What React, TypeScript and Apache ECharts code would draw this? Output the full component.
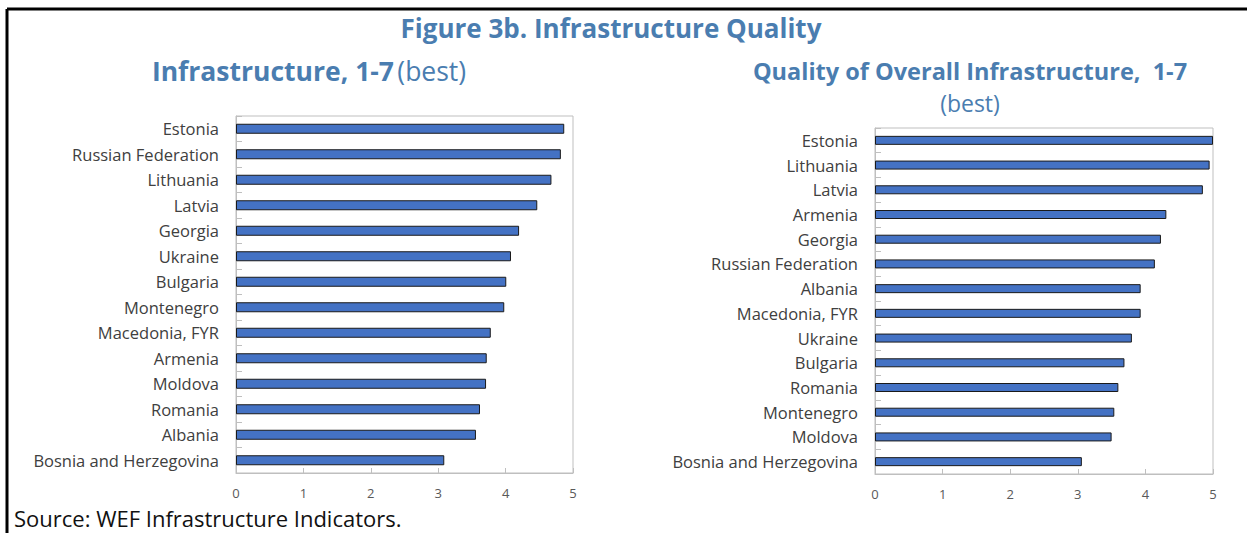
import React, { useEffect, useRef } from "react";
import * as echarts from "echarts";

const leftCategories = [
  "Estonia",
  "Russian Federation",
  "Lithuania",
  "Latvia",
  "Georgia",
  "Ukraine",
  "Bulgaria",
  "Montenegro",
  "Macedonia, FYR",
  "Armenia",
  "Moldova",
  "Romania",
  "Albania",
  "Bosnia and Herzegovina",
];
const leftValues = [4.87, 4.82, 4.68, 4.47, 4.2, 4.08, 4.01, 3.98, 3.78, 3.72, 3.71, 3.62, 3.56, 3.09];

const rightCategories = [
  "Estonia",
  "Lithuania",
  "Latvia",
  "Armenia",
  "Georgia",
  "Russian Federation",
  "Albania",
  "Macedonia, FYR",
  "Ukraine",
  "Bulgaria",
  "Romania",
  "Montenegro",
  "Moldova",
  "Bosnia and Herzegovina",
];
const rightValues = [5.0, 4.95, 4.85, 4.31, 4.23, 4.14, 3.93, 3.93, 3.8, 3.69, 3.6, 3.54, 3.5, 3.06];

const xMin = 0;
const xMax = 5;
const xStep = 1;

const mainTitle = "Figure 3b. Infrastructure Quality";
const leftTitleBold = "Infrastructure, 1-7";
const leftTitleNormal = "(best)";
const rightTitleLine1 = "Quality of Overall Infrastructure,  1-7";
const rightTitleLine2 = "(best)";
const sourceText = "Source: WEF Infrastructure Indicators.";

const BLUE_TITLE = "#4a7db0";
const FONT = "'Open Sans', 'Noto Sans', sans-serif";

export default function App() {
  const ref = useRef<HTMLDivElement>(null);

  useEffect(() => {
    if (!ref.current) return;
    const chart = echarts.init(ref.current, undefined, { renderer: "svg" });

    const xAxisBase = (gridIndex: number) => ({
      type: "value",
      gridIndex,
      min: xMin,
      max: xMax,
      interval: xStep,
      axisLine: { show: true, lineStyle: { color: "#bfbfbf", width: 1 } },
      axisTick: { show: true, inside: true, length: 5, lineStyle: { color: "#bfbfbf" } },
      splitLine: { show: false },
      axisLabel: { color: "#595959", fontSize: 13, fontFamily: FONT, margin: 13 },
    });

    const yAxisBase = (gridIndex: number, cats: string[]) => ({
      type: "category",
      gridIndex,
      data: cats,
      inverse: true,
      axisLine: { show: true, lineStyle: { color: "#bfbfbf", width: 1 } },
      axisTick: { show: true, inside: true, length: 6, interval: 0, lineStyle: { color: "#bfbfbf" } },
      axisLabel: { color: "#404040", fontSize: 16.5, fontFamily: FONT, margin: 17, interval: 0 },
      splitLine: { show: false },
    });

    const barStyle = { color: "#4472c4", borderColor: "#1a1a1a", borderWidth: 1 };

    chart.setOption({
      animation: false,
      backgroundColor: "#ffffff",
      grid: [
        { left: 236, top: 116, width: 337, height: 357, show: true, borderColor: "#bfbfbf", borderWidth: 1 },
        { left: 875, top: 128, width: 338, height: 346, show: true, borderColor: "#bfbfbf", borderWidth: 1 },
      ],
      xAxis: [xAxisBase(0), xAxisBase(1)],
      yAxis: [yAxisBase(0, leftCategories), yAxisBase(1, rightCategories)],
      series: [
        {
          type: "bar",
          xAxisIndex: 0,
          yAxisIndex: 0,
          data: leftValues,
          barWidth: 10,
          itemStyle: barStyle,
        },
        {
          type: "bar",
          xAxisIndex: 1,
          yAxisIndex: 1,
          data: rightValues,
          barWidth: 9,
          itemStyle: barStyle,
        },
      ],
      graphic: [
        {
          type: "line",
          shape: { x1: 7, y1: 9, x2: 1247, y2: 9 },
          style: { stroke: "#000", lineWidth: 3 },
        },
        {
          type: "line",
          shape: { x1: 7, y1: 9, x2: 7, y2: 533 },
          style: { stroke: "#000", lineWidth: 3 },
        },
        {
          type: "text",
          x: 611,
          y: 28,
          style: {
            text: mainTitle,
            fill: BLUE_TITLE,
            font: `bold 26px ${FONT}`,
            align: "center",
            verticalAlign: "middle",
          },
        },
        {
          type: "text",
          x: 309,
          y: 71,
          style: {
            text: `{b|${leftTitleBold}} {n|${leftTitleNormal}}`,
            align: "center",
            verticalAlign: "middle",
            rich: {
              b: { fill: BLUE_TITLE, fontFamily: FONT, fontWeight: "bold", fontSize: 26.5 },
              n: { fill: BLUE_TITLE, fontFamily: FONT, fontWeight: "normal", fontSize: 26.5 },
            },
          },
        },
        {
          type: "text",
          x: 970,
          y: 71,
          style: {
            text: rightTitleLine1,
            fill: BLUE_TITLE,
            font: `bold 23.5px ${FONT}`,
            align: "center",
            verticalAlign: "middle",
          },
        },
        {
          type: "text",
          x: 970,
          y: 103,
          style: {
            text: rightTitleLine2,
            fill: BLUE_TITLE,
            font: `normal 23px ${FONT}`,
            align: "center",
            verticalAlign: "middle",
          },
        },
        {
          type: "text",
          x: 14,
          y: 518,
          style: {
            text: sourceText,
            fill: "#111",
            font: `normal 22px ${FONT}`,
            lineHeight: 24,
            align: "left",
            verticalAlign: "middle",
          },
        },
      ],
    });

    return () => chart.dispose();
  }, []);

  return (
    <div
      ref={ref}
      style={{ position: "fixed", left: 0, top: 0, width: 1247, height: 533 }}
    />
  );
}
